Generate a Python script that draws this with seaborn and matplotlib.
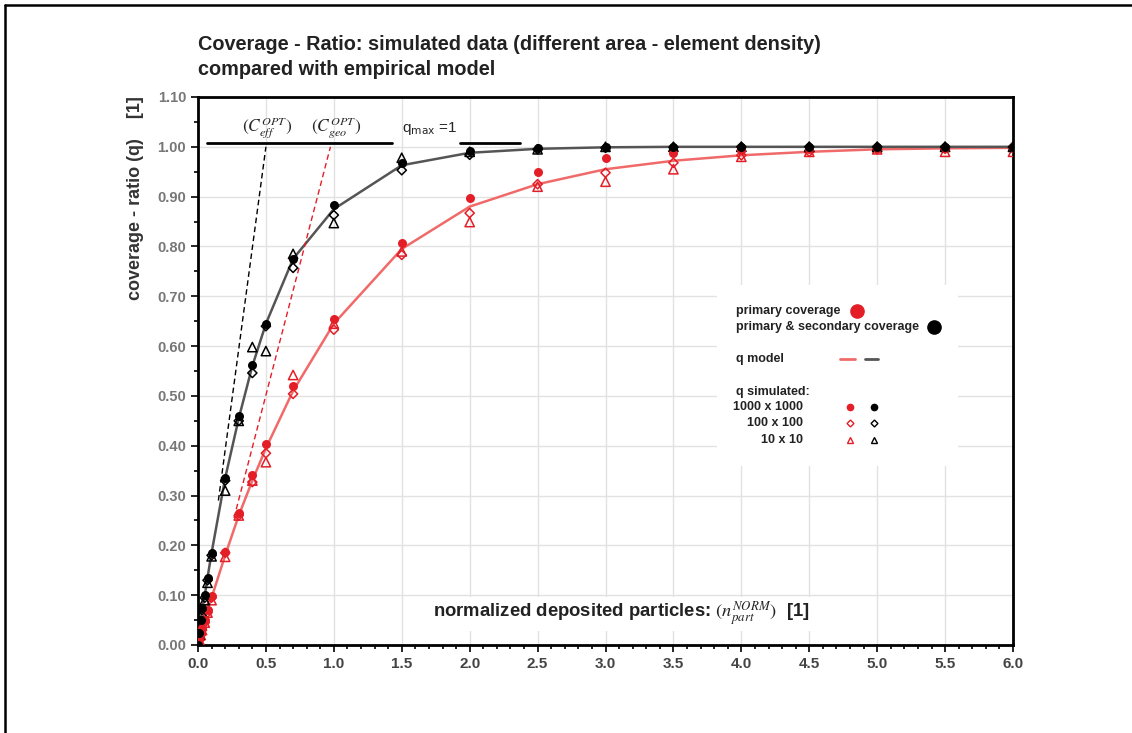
import numpy as np
import pandas as pd
import matplotlib
matplotlib.use('Agg')
import matplotlib.pyplot as plt
from matplotlib.lines import Line2D
from matplotlib.patches import Rectangle
from matplotlib.ticker import MultipleLocator, FormatStrFormatter
import seaborn as sns

# normalized deposited particles (x) at which q was simulated / modelled
x_sim = [0, 0.01, 0.02, 0.03, 0.05, 0.07, 0.1, 0.2, 0.3, 0.4, 0.5, 0.7,
         1.0, 1.5, 2.0, 2.5, 3.0, 3.5, 4.0, 4.5, 5.0, 5.5, 6.0]

# primary & secondary coverage (black)
q_model_sec = [0, 0.025, 0.05, 0.072, 0.10, 0.135, 0.185, 0.335, 0.455, 0.56, 0.645, 0.775,
               0.875, 0.963, 0.988, 0.996, 0.999, 1.0, 1.0, 1.0, 1.0, 1.0, 1.0]
q_sec_1000 = [0, 0.025, 0.05, 0.074, 0.10, 0.135, 0.185, 0.335, 0.46, 0.562, 0.645, 0.775,
              0.884, 0.967, 0.992, 0.998, 0.999, 1.0, 1.0, 1.0, 1.0, 1.0, 1.0]
q_sec_100 = [0, 0.02, 0.045, 0.07, 0.095, 0.13, 0.18, 0.33, 0.45, 0.546, 0.64, 0.757,
             0.863, 0.953, 0.984, 0.995, 0.998, 0.999, 1.0, 1.0, 1.0, 1.0, 1.0]
q_sec_10 = [0, 0.02, 0.04, 0.065, 0.09, 0.125, 0.178, 0.31, 0.45, 0.598, 0.59, 0.785,
            0.847, 0.978, 0.99, 0.995, 1.0, 1.0, 1.0, 1.0, 1.0, 1.0, 1.0]

# primary coverage (red)
q_model_prim = [0, 0.01, 0.02, 0.03, 0.05, 0.07, 0.095, 0.18, 0.26, 0.33, 0.395, 0.51,
                0.645, 0.795, 0.88, 0.925, 0.955, 0.972, 0.983, 0.99, 0.995, 0.997, 0.998]
q_prim_1000 = [0, 0.012, 0.025, 0.035, 0.05, 0.07, 0.098, 0.187, 0.265, 0.341, 0.404, 0.52,
               0.655, 0.807, 0.898, 0.95, 0.978, 0.988, 0.993, 0.995, 0.997, 0.998, 0.999]
q_prim_100 = [0, 0.01, 0.02, 0.03, 0.045, 0.065, 0.095, 0.185, 0.26, 0.327, 0.385, 0.504,
              0.633, 0.783, 0.867, 0.925, 0.948, 0.968, 0.983, 0.99, 0.995, 0.996, 0.997]
q_prim_10 = [0, 0.01, 0.02, 0.03, 0.045, 0.065, 0.09, 0.177, 0.26, 0.33, 0.367, 0.542,
             0.645, 0.79, 0.849, 0.92, 0.93, 0.955, 0.98, 0.99, 0.995, 0.99, 0.99]

# tangents (optimum coverage) and q_max markers
tan_eff_x = [0.15, 0.50]
tan_eff_q = [0.29, 1.0]
tan_geo_x = [0.265, 0.975]
tan_geo_q = [0.255, 1.0]
qmax_seg1_x = [0.066, 1.43]
qmax_seg2_x = [1.93, 2.37]
qmax_q = [1.008, 1.008]

RED = '#e41e26'
RED_LINE = '#f06a6a'
BLACK = '#000000'
GRAY_LINE = '#555555'

sns.set_theme(style='white')
plt.rcParams['font.family'] = ['Liberation Sans', 'DejaVu Sans']
plt.rcParams['mathtext.fontset'] = 'stix'

fig = plt.figure(figsize=(11.32, 7.33), dpi=100)
ax = fig.add_axes([198 / 1132, 88 / 733, 815 / 1132, 548 / 733])

ax.set_xlim(0, 6.0)
ax.set_ylim(0, 1.10)
ax.xaxis.set_major_locator(MultipleLocator(0.5))
ax.xaxis.set_minor_locator(MultipleLocator(0.1))
ax.yaxis.set_major_locator(MultipleLocator(0.1))
ax.yaxis.set_minor_locator(MultipleLocator(0.05))
ax.xaxis.set_major_formatter(FormatStrFormatter('%.1f'))
ax.yaxis.set_major_formatter(FormatStrFormatter('%.2f'))
ax.grid(True, which='major', color='#e2e2e2', lw=1.0, zorder=0)
for s in ax.spines.values():
    s.set_color('black')
    s.set_linewidth(2.0)
ax.tick_params(axis='both', which='both', direction='out', bottom=True, left=True,
               color='black', width=1.2)
ax.tick_params(axis='both', which='major', length=5)
ax.tick_params(axis='both', which='minor', length=3)
for lab in ax.get_xticklabels():
    lab.set_fontweight('bold'); lab.set_color('#444444'); lab.set_fontsize(11)
for lab in ax.get_yticklabels():
    lab.set_fontweight('bold'); lab.set_color('#777777'); lab.set_fontsize(10.5)

# model curves
sns.lineplot(x=x_sim, y=q_model_prim, ax=ax, color=RED_LINE, lw=1.8, sort=False, zorder=3)
sns.lineplot(x=x_sim, y=q_model_sec, ax=ax, color=GRAY_LINE, lw=1.8, sort=False, zorder=3)

# simulated points
for col, q1000, q100, q10 in [(RED, q_prim_1000, q_prim_100, q_prim_10),
                              (BLACK, q_sec_1000, q_sec_100, q_sec_10)]:
    sns.scatterplot(x=x_sim, y=q10, ax=ax, marker='^', s=45, facecolor='none',
                    edgecolor=col, linewidth=1.1, zorder=4)
    sns.scatterplot(x=x_sim, y=q100, ax=ax, marker='D', s=22, facecolor='none',
                    edgecolor=col, linewidth=1.1, zorder=4)
    sns.scatterplot(x=x_sim, y=q1000, ax=ax, marker='o', s=42, color=col,
                    edgecolor=col, linewidth=0, zorder=5)

# tangents and q_max lines
ax.plot(tan_eff_x, tan_eff_q, ls=(0, (4, 2.5)), color='black', lw=1.0, zorder=3)
ax.plot(tan_geo_x, tan_geo_q, ls=(0, (4, 2.5)), color=RED, lw=1.0, zorder=3)
ax.plot(qmax_seg1_x, qmax_q, color='black', lw=2.0, zorder=3)
ax.plot(qmax_seg2_x, qmax_q, color='black', lw=2.0, zorder=3)

ax.text(0.51, 1.038, r'$(C_{eff}^{OPT})$', ha='center', va='center', fontsize=12.5)
ax.text(1.02, 1.038, r'$(C_{geo}^{OPT})$', ha='center', va='center', fontsize=12.5)
ax.text(1.50, 1.036, r'q$_{\mathrm{max}}$ =1', ha='left', va='center', fontsize=11,
        math_fontfamily='dejavusans')

# x label inside the plot
ax.text(0.52, 0.057, r'normalized deposited particles: $(n_{part}^{NORM})$  [1]',
        transform=ax.transAxes, ha='center', va='center', fontsize=13.3,
        fontweight='bold', color='#222222',
        bbox=dict(facecolor='white', edgecolor='none', pad=2), zorder=6)

# legend block drawn by hand
ax.add_patch(Rectangle((0.637, 0.327), 0.296, 0.33, transform=ax.transAxes,
                       facecolor='white', edgecolor='none', zorder=6))
lk = dict(transform=ax.transAxes, fontsize=9.0, fontweight='bold', color='#222222',
          va='center', zorder=7)
ax.text(0.660, 0.609, 'primary coverage', ha='left', **lk)
ax.text(0.660, 0.580, 'primary & secondary coverage', ha='left', **lk)
ax.text(0.660, 0.522, 'q model', ha='left', **lk)
ax.text(0.660, 0.462, 'q simulated:', ha='left', **lk)
ax.text(0.742, 0.434, '1000 x 1000', ha='right', **lk)
ax.text(0.742, 0.405, '100 x 100', ha='right', **lk)
ax.text(0.742, 0.374, '10 x 10', ha='right', **lk)
ax.plot([0.808], [0.609], 'o', ms=9.5, color=RED, transform=ax.transAxes, zorder=7)
ax.plot([0.903], [0.580], 'o', ms=9.5, color=BLACK, transform=ax.transAxes, zorder=7)
ax.plot([0.788, 0.806], [0.522, 0.522], color=RED_LINE, lw=2, transform=ax.transAxes, zorder=7)
ax.plot([0.818, 0.834], [0.522, 0.522], color=GRAY_LINE, lw=2, transform=ax.transAxes, zorder=7)
for yy, mk, ms, filled in [(0.434, 'o', 4.5, True), (0.405, 'D', 3.5, False), (0.374, '^', 5, False)]:
    for xx, col in [(0.800, RED), (0.829, BLACK)]:
        ax.plot([xx], [yy], mk, ms=ms, transform=ax.transAxes, zorder=7,
                color=col, mfc=col if filled else 'none', mew=1.0)

# title and y label
fig.text(198 / 1132, 1 - 57 / 733,
         'Coverage - Ratio: simulated data (different area - element density)\ncompared with empirical model',
         ha='left', va='center', fontsize=14.3, fontweight='bold', color='#222222',
         linespacing=1.45)
fig.text(136 / 1132, 1 - 198 / 733, 'coverage - ratio (q)    [1]', rotation=90,
         ha='center', va='center', fontsize=13, fontweight='bold', color='#333333')

# outer frame (top and left edges)
fig.add_artist(Line2D([5 / 1132, 5 / 1132], [0, 1 - 5 / 733], color='black', lw=1.8,
                      transform=fig.transFigure))
fig.add_artist(Line2D([5 / 1132, 1], [1 - 5 / 733, 1 - 5 / 733], color='black', lw=1.8,
                      transform=fig.transFigure))

fig.savefig('out.png', dpi=100, facecolor='white')
